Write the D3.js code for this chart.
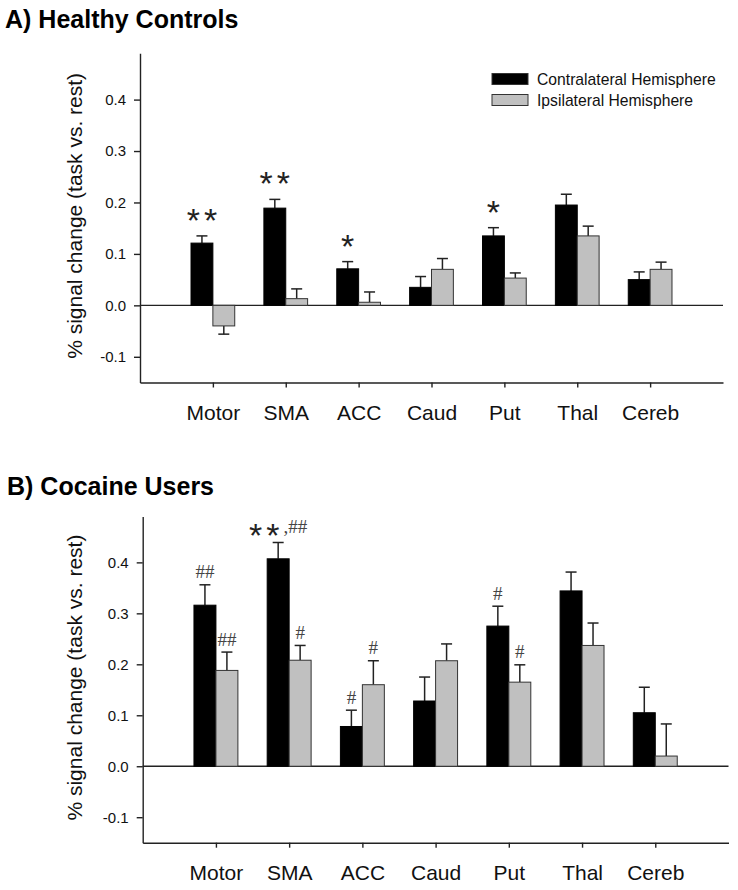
<!DOCTYPE html>
<html>
<head>
<meta charset="utf-8">
<script src="https://cdn.jsdelivr.net/npm/d3@7"></script>
<style>
    body { margin: 0; background: #fff; }
    svg { display: block; font-family: "Liberation Sans", Arial, sans-serif; }
</style>
</head>
<body>
<svg id="fig" width="738" height="890"></svg>
<script>
// valores
const categorias = ["Motor", "SMA", "ACC", "Caud", "Put", "Thal", "Cereb"];
const yTicks = [-0.1, 0.0, 0.1, 0.2, 0.3, 0.4];
const series = ["Contralateral Hemisphere", "Ipsilateral Hemisphere"];

const controlesContra = [0.121, 0.189, 0.071, 0.035, 0.135, 0.195, 0.050];
const controlesContraErro = [0.014, 0.017, 0.014, 0.021, 0.016, 0.021, 0.015];
const controlesIpsi = [-0.040, 0.013, 0.006, 0.070, 0.053, 0.135, 0.070];
const controlesIpsiErro = [0.016, 0.019, 0.020, 0.021, 0.010, 0.019, 0.014];

const cocainaContra = [0.316, 0.407, 0.078, 0.128, 0.275, 0.344, 0.105];
const cocainaContraErro = [0.040, 0.032, 0.032, 0.047, 0.039, 0.037, 0.050];
const cocainaIpsi = [0.188, 0.208, 0.160, 0.207, 0.165, 0.237, 0.020];
const cocainaIpsiErro = [0.036, 0.029, 0.047, 0.033, 0.034, 0.044, 0.063];

// marcas de significancia: categoria, serie (0 contra, 1 ipsi), texto
const marcasControles = [
    ["Motor", 0, "**"], ["SMA", 0, "**"], ["ACC", 0, "*"], ["Put", 0, "*"]
];
const marcasCocaina = [
    ["Motor", 0, "##"], ["Motor", 1, "##"], ["SMA", 0, "**,##"], ["SMA", 1, "#"],
    ["ACC", 0, "#"], ["ACC", 1, "#"], ["Put", 0, "#"], ["Put", 1, "#"]
];

const CORES = ["#000000", "#c0c0c0"];
const COR_EIXO = "#222";
const svg = d3.select("#fig");
svg.append("rect").attr("width", 738).attr("height", 890).attr("fill", "#fff");

function desenharPainel(cfg) {
    const g = svg.append("g");
    const x = d3.scaleLinear().domain([0, 8]).range([cfg.x0, cfg.x1]);
    const y = d3.scaleLinear().domain([-0.15, 0.49]).range([cfg.yBase, cfg.yTopo]);
    const larg = (x(1) - x(0)) * 0.3;

    // titulo
    g.append("text")
        .attr("x", cfg.tituloX).attr("y", cfg.tituloY)
        .attr("font-size", 25).attr("font-weight", "bold")
        .text(cfg.titulo);

    // eixo y
    const eixoY = g.append("g")
        .attr("transform", `translate(${cfg.x0},0)`)
        .call(d3.axisLeft(y).tickValues(yTicks).tickFormat(d => d.toFixed(1))
            .tickSize(6).tickSizeOuter(0).tickPadding(8));
    eixoY.selectAll("text").attr("font-size", 15).attr("font-family", null).attr("fill", "#111");

    // eixo x
    const eixoX = g.append("g")
        .attr("transform", `translate(0,${cfg.yBase})`)
        .call(d3.axisBottom(x).tickValues(d3.range(1, 8)).tickFormat(i => categorias[i - 1])
            .tickSize(5).tickSizeOuter(0).tickPadding(17.5));
    eixoX.selectAll("text").attr("font-size", 21).attr("font-family", null).attr("fill", "#111");
    g.selectAll(".domain, .tick line").attr("stroke", COR_EIXO).attr("stroke-width", 1.4);

    // rotulo do eixo y
    g.append("text")
        .attr("transform", `translate(82,${(cfg.yBase + cfg.yTopo) / 2 - 2}) rotate(-90)`)
        .attr("text-anchor", "middle")
        .attr("font-size", 21).attr("fill", "#111")
        .text("% signal change (task vs. rest)");

    // linha do zero
    g.append("line")
        .attr("x1", cfg.x0).attr("x2", cfg.x1)
        .attr("y1", y(0)).attr("y2", y(0))
        .attr("stroke", COR_EIXO).attr("stroke-width", 1.4);

    const dados = [];
    [cfg.contra, cfg.ipsi].forEach((vals, s) => {
        const erros = s == 0 ? cfg.contraErro : cfg.ipsiErro;
        vals.forEach((v, i) => {
            dados.push({ cat: categorias[i], i: i, s: s, v: v, e: erros[i] });
        });
    });
    const posX = d => x(d.i + 1) - (d.s == 0 ? larg : 0);
    const ponta = d => d.v >= 0 ? d.v + d.e : d.v - d.e;

    // barras de erro (atras das barras)
    const erros = g.append("g").attr("stroke", COR_EIXO).attr("stroke-width", 1.5);
    erros.selectAll("line.vert").data(dados).join("line")
        .attr("class", "vert")
        .attr("x1", d => posX(d) + larg / 2).attr("x2", d => posX(d) + larg / 2)
        .attr("y1", d => y(d.v)).attr("y2", d => y(ponta(d)));
    erros.selectAll("line.cap").data(dados).join("line")
        .attr("class", "cap")
        .attr("x1", d => posX(d) + larg / 2 - 5.5).attr("x2", d => posX(d) + larg / 2 + 5.5)
        .attr("y1", d => y(ponta(d))).attr("y2", d => y(ponta(d)));

    g.append("g").selectAll("rect").data(dados).join("rect")
        .attr("x", posX)
        .attr("width", larg)
        .attr("y", d => y(Math.max(0, d.v)))
        .attr("height", d => Math.abs(y(d.v) - y(0)))
        .attr("fill", d => CORES[d.s])
        .attr("stroke", d => d.s == 0 ? "#000" : "#333")
        .attr("stroke-width", 1);

    // marcas
    cfg.marcas.forEach(([cat, s, txt]) => {
        const d = dados.find(o => o.cat == cat && o.s == s);
        const cx = posX(d) + larg / 2;
        const topo = y(ponta(d));
        const estrelas = txt.replace(/[^*]/g, "");
        const resto = txt.replace(/\*/g, "");
        if (estrelas && !resto) {
            g.append("text")
                .attr("x", cx + 2).attr("y", topo - 4)
                .attr("text-anchor", "middle")
                .attr("font-size", 34).attr("letter-spacing", 4).attr("fill", "#222")
                .text(estrelas);
        } else if (!estrelas) {
            g.append("text")
                .attr("x", cx).attr("y", topo - 6.5)
                .attr("text-anchor", "middle")
                .attr("font-family", "'Liberation Serif', 'Times New Roman', serif")
                .attr("font-size", 19).attr("fill", "#444")
                .text(resto);
        } else {
            const t = g.append("text")
                .attr("x", cx).attr("y", topo + 5)
                .attr("text-anchor", "middle");
            t.append("tspan")
                .attr("font-size", 34).attr("letter-spacing", 4).attr("fill", "#222")
                .text(estrelas);
            t.append("tspan")
                .attr("dy", -14)
                .attr("font-family", "'Liberation Serif', 'Times New Roman', serif")
                .attr("font-size", 19).attr("fill", "#444")
                .text(resto);
        }
    });

    // legenda
    if (cfg.legenda) {
        series.forEach((nome, s) => {
            g.append("rect")
                .attr("x", 492).attr("y", 73.5 + s * 21)
                .attr("width", 36).attr("height", 11)
                .attr("fill", CORES[s]).attr("stroke", "#333").attr("stroke-width", 1);
            g.append("text")
                .attr("x", 537).attr("y", 85 + s * 21)
                .attr("font-size", 15.7).attr("fill", "#111")
                .text(nome);
        });
    }
}

desenharPainel({
    titulo: "A) Healthy Controls", tituloX: 5, tituloY: 28,
    x0: 140, x1: 723, yBase: 382.5, yTopo: 53.3,
    contra: controlesContra, contraErro: controlesContraErro,
    ipsi: controlesIpsi, ipsiErro: controlesIpsiErro,
    marcas: marcasControles, legenda: true
});

desenharPainel({
    titulo: "B) Cocaine Users", tituloX: 7, tituloY: 495,
    x0: 142.7, x1: 728.5, yBase: 842.7, yTopo: 516.5,
    contra: cocainaContra, contraErro: cocainaContraErro,
    ipsi: cocainaIpsi, ipsiErro: cocainaIpsiErro,
    marcas: marcasCocaina, legenda: false
});
</script>
</body>
</html>
